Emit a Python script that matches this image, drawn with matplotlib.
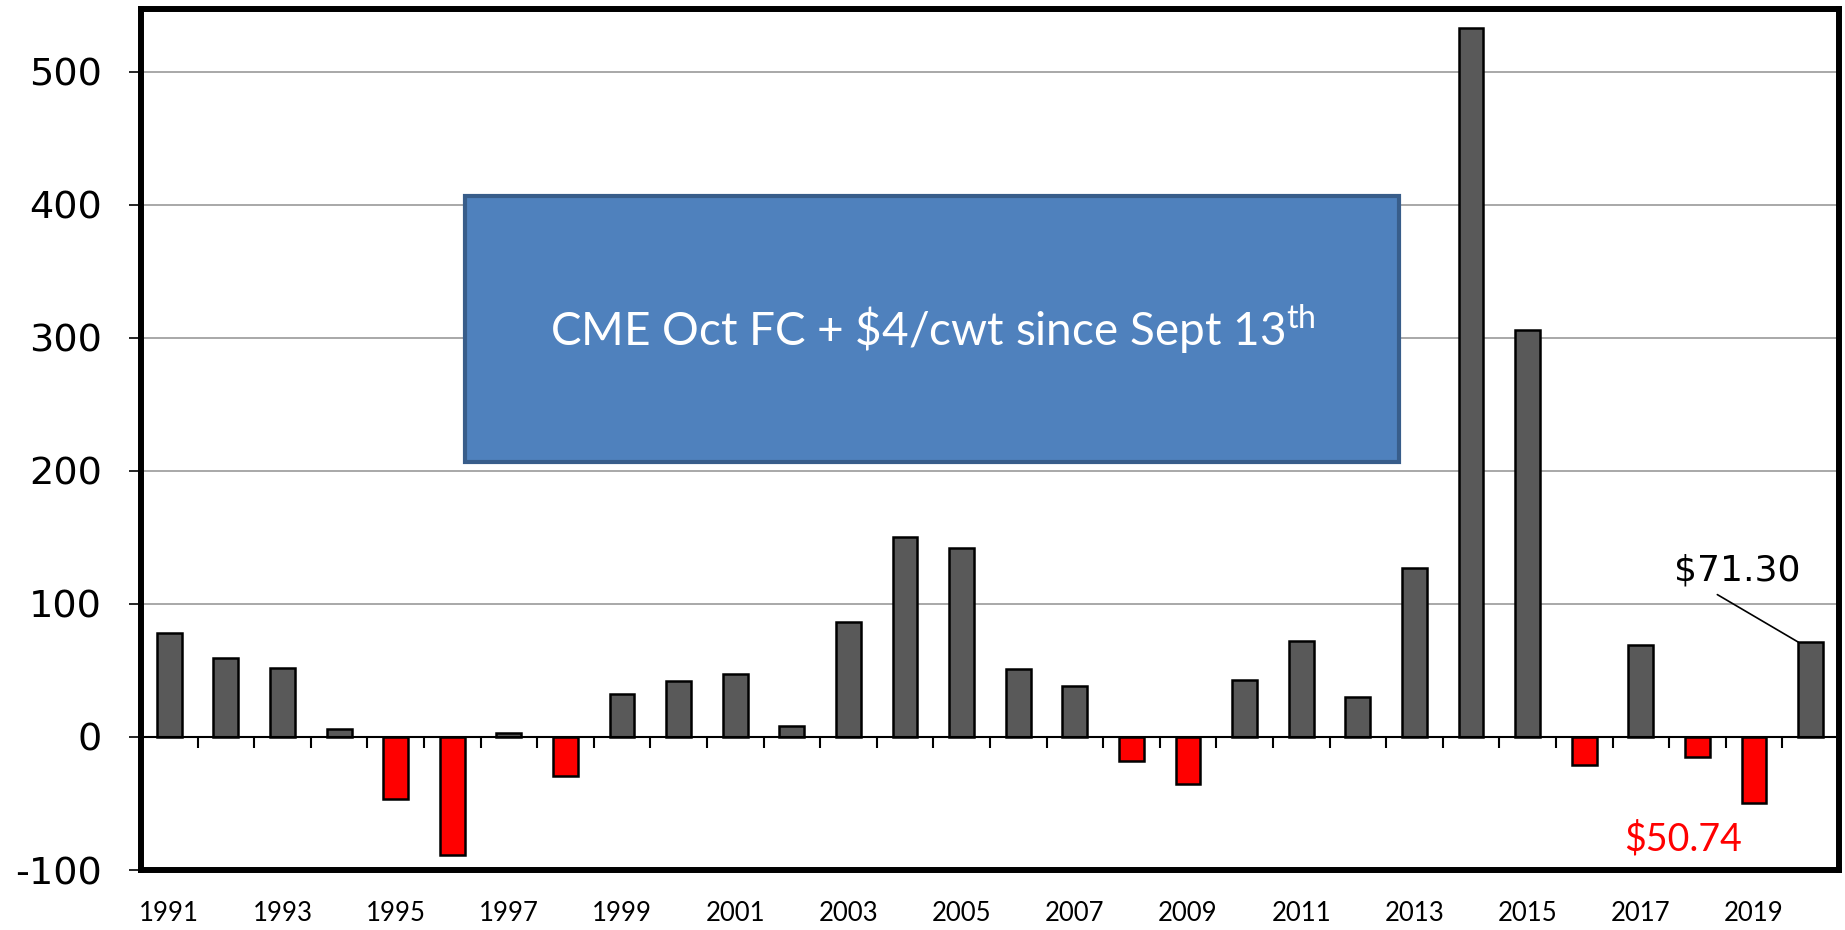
import matplotlib
matplotlib.use("Agg")
import matplotlib.pyplot as plt
import numpy as np
from matplotlib.patches import Rectangle

# yearly values
years = list(range(1991, 2021))
values = [78, 59, 52, 6, -47, -89, 3, -29, 32, 42,
          47, 8, 86, 150, 142, 51, 38, -18, -35, 43,
          72, 30, 127, 533, 306, -21, 69, -15, -50, 71.3]
ytick_vals = [-100, 0, 100, 200, 300, 400, 500]
box_text = "CME Oct FC + \\$4/cwt since Sept 13$^{\\mathregular{th}}$"
label_hi = "$71.30"
label_lo = "$50.74"

pos_color = "#595959"
neg_color = "#FF0000"


def main():
    fig = plt.figure(figsize=(18.45, 9.3), dpi=100)
    ax = fig.add_axes([0.0764, 0.0645, 0.9203, 0.9258])

    x = np.arange(len(years))
    colors = [pos_color if v >= 0 else neg_color for v in values]
    ax.bar(x, values, width=0.44, color=colors, edgecolor="black", linewidth=1.8, zorder=3)

    ax.set_xlim(-0.5, len(years) - 0.5)
    ax.set_ylim(-100, 547)

    # grid + zero line
    for v in ytick_vals[2:]:
        ax.axhline(v, color="#9A9A9A", linewidth=1.2, zorder=1)
    ax.axhline(0, color="black", linewidth=1.5, zorder=4)
    # small category ticks hanging under the zero line
    ax.vlines(x[:-1] + 0.5, -8, 0, color="black", linewidth=1.5, zorder=4)

    ax.set_yticks(ytick_vals)
    ax.set_yticklabels([str(v) for v in ytick_vals], fontsize=27.5, family="DejaVu Sans")
    ax.tick_params(axis="y", length=9, width=1.2, pad=19)

    ax.set_xticks(x[::2])
    ax.set_xticklabels([str(y) for y in years[::2]], fontsize=18.5, family="Lato")
    ax.tick_params(axis="x", length=0, pad=22)

    for s in ax.spines.values():
        s.set_linewidth(4.3)
        s.set_color("black")

    # blue note box
    ax.add_patch(Rectangle((0.191, 0.474), 0.55, 0.309, transform=ax.transAxes,
                           facecolor="#4F81BD", edgecolor="#385D8A", linewidth=3, zorder=5))
    ax.text(0.191 + 0.275, 0.474 + 0.1545, box_text, transform=ax.transAxes,
            color="white", fontsize=33, family="Lato", ha="center", va="center", zorder=6)

    # callouts
    last = len(years) - 1
    ax.annotate(label_hi, xy=(last - 0.22, values[-1]), xytext=(27.7, 125),
                fontsize=26, family="DejaVu Sans", ha="center", va="center",
                arrowprops=dict(arrowstyle="-", color="black", linewidth=1.2,
                                relpos=(0.25, 0.0), shrinkA=6, shrinkB=0), zorder=6)
    ax.text(26.75, -77, label_lo, color=neg_color, fontsize=27, family="Lato",
            ha="center", va="center", zorder=6)

    fig.savefig("out.png", dpi=100)
    plt.close(fig)


if __name__ == "__main__":
    main()
